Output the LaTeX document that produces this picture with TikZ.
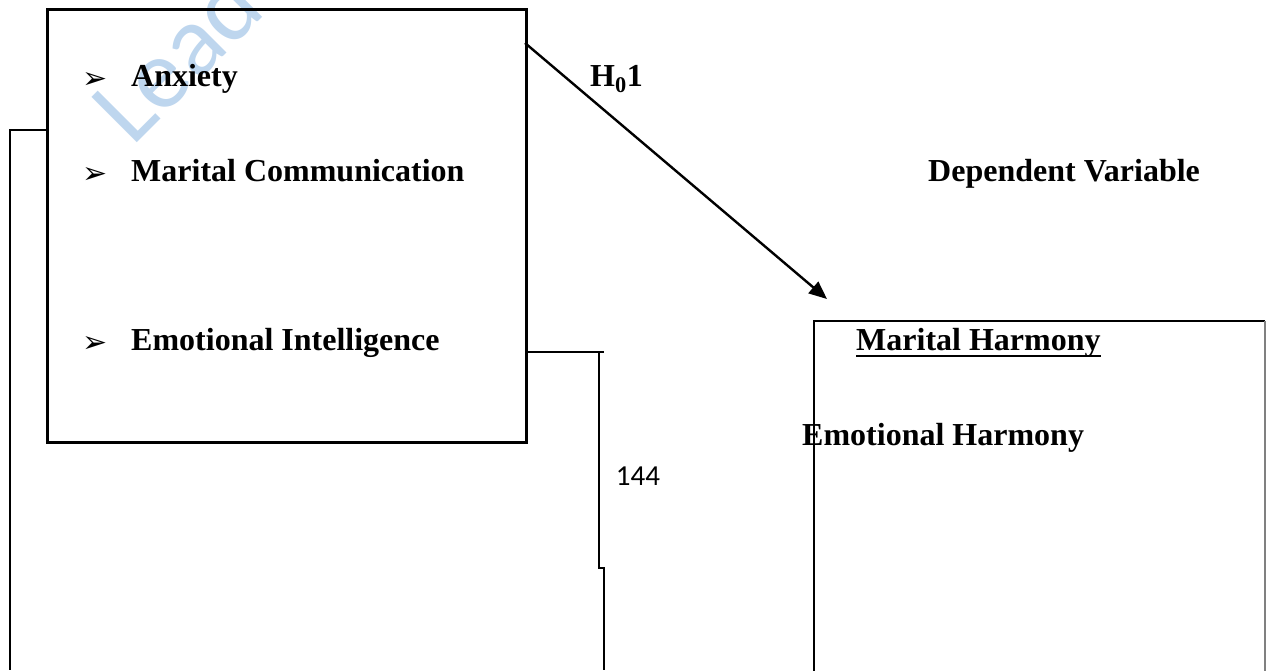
\documentclass[tikz,border=0pt]{standalone}
\usepackage{fontspec}
\setmainfont{Liberation Serif}
\newfontfamily\dingfont{DejaVu Sans}
\newfontfamily\calfont{Carlito}
\usetikzlibrary{arrows.meta}
\definecolor{wmblue}{RGB}{190,214,238}
\tikzset{
  boxline/.style={draw=black, line width=2.8pt},
  conn/.style={draw=black, line width=2.4pt},
  lbl/.style={font=\fontsize{32}{36}\selectfont\bfseries, inner sep=0pt, anchor=base west},
  bul/.style={font=\dingfont\fontsize{30}{32}\selectfont, inner sep=0pt, anchor=base west},
}
\begin{document}
\begin{tikzpicture}[x=1pt,y=-1pt]
\useasboundingbox (0,0) rectangle (1266,670);
\clip (0,0) rectangle (1266,670);
% watermark
\node[text=wmblue, font=\calfont\fontsize{100}{100}\selectfont, rotate=45, anchor=base west, inner sep=0pt] (wm) at (132,148) {Lead};
% left box
\node[boxline, minimum width=479pt, minimum height=433pt, inner sep=0pt, anchor=north west] (lbox) at (46,8) {};
% bullets and labels
\node[bul] (b1) at (82,88) {➢};
\node[lbl] (t1) at (131,86) {Anxiety};
\node[bul] (b2) at (82,183) {➢};
\node[lbl] (t2) at (131,181) {Marital Communication};
\node[bul] (b3) at (82,352) {➢};
\node[lbl] (t3) at (131,350) {Emotional Intelligence};
% left bracket
\coordinate (lb1) at (10,130);
\coordinate (lb2) at (10,670);
\draw[conn] (lbox.west |- lb1) -- (lb1) -- (lb2);
% right connector
\coordinate (rc1) at (604,352);
\coordinate (rc2) at (599,352);
\coordinate (rc3) at (599,568);
\coordinate (rc4) at (604,568);
\coordinate (rc5) at (604,670);
\draw[conn] (lbox.east |- rc1) -- (rc1);
\draw[conn] (rc2) -- (rc3) -- (rc4) -- (rc5);
\node[font=\calfont\fontsize{29}{31}\selectfont, inner sep=0pt] (n144) at (638,476) {144};
% arrow
\coordinate (as) at (525,43);
\coordinate (ae) at (827,299);
\draw[conn, -{Triangle[length=18pt,width=15pt]}] (as) -- (ae);
\node[lbl] (h) at (590,86) {H\textsubscript{0}1};
% dependent variable
\node[lbl] (dv) at (928,181) {Dependent Variable};
% right box
\coordinate (r1) at (814,700);
\coordinate (r2) at (814,321);
\coordinate (r3) at (1265,321);
\coordinate (r4) at (1265,700);
\draw[boxline] (r1) -- (r2) -- (r3);
\draw[draw=gray, line width=1.2pt] (r3) -- (r4);
\node[lbl] (mh) at (856,350) {Marital Harmony};
\draw[line width=2.6pt] ([yshift=-6pt]mh.base west) -- ([yshift=-6pt]mh.base east);
\node[lbl] (eh) at (802,445) {Emotional Harmony};
\end{tikzpicture}
\end{document}
